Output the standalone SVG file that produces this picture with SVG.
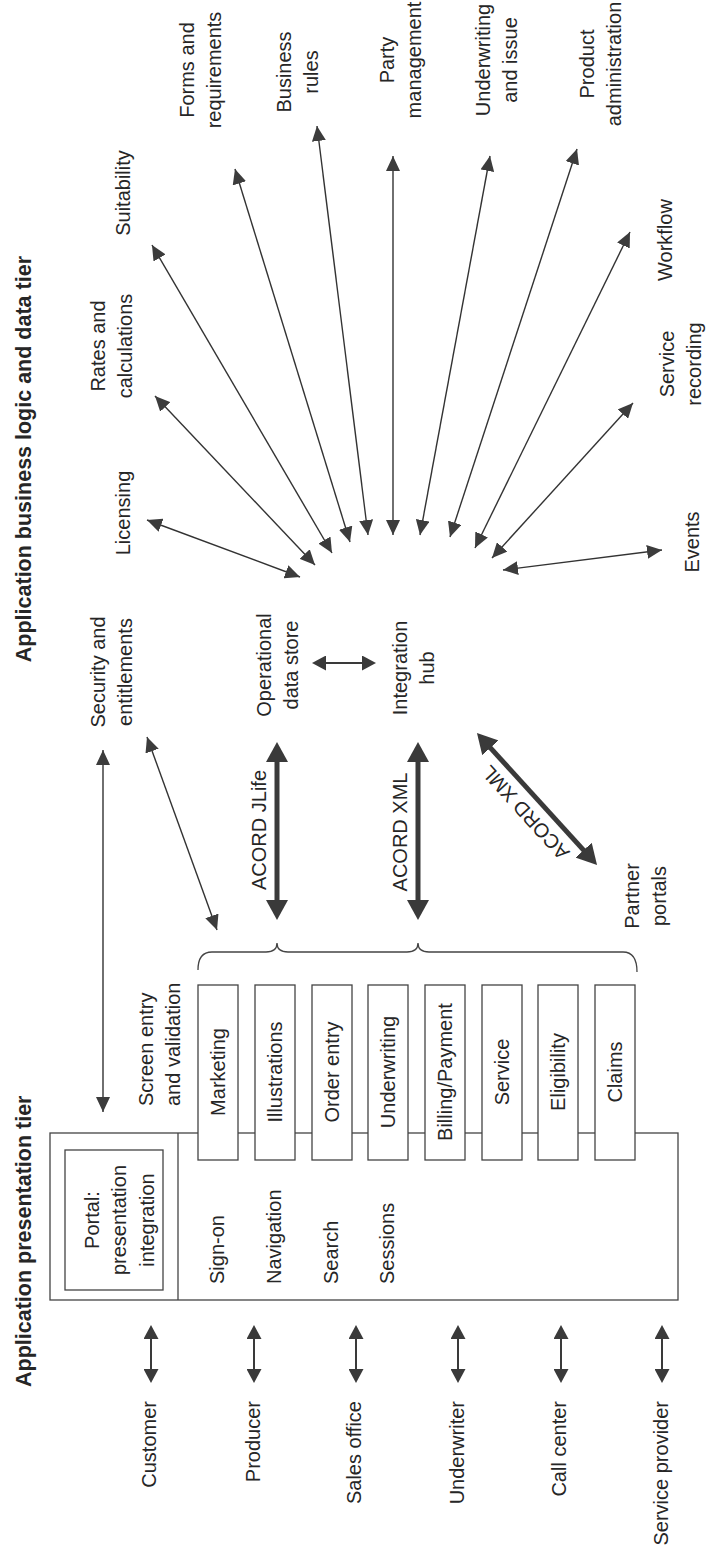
<svg xmlns="http://www.w3.org/2000/svg" width="709" height="1561" viewBox="0 0 709 1561">
<defs>
<style>
text { font-family: "Liberation Sans", Arial, Helvetica, sans-serif; font-size: 20px; fill: #262626; }
.title { font-weight: bold; font-size: 21.5px; }
.mid { text-anchor: middle; }
.end { text-anchor: end; }
.box { fill: #fff; stroke: #444; stroke-width: 1.3; }
.thin { stroke: #333; stroke-width: 1.4; fill: none; marker-start: url(#ah); marker-end: url(#ah); }
.thick { stroke: #3a3a3a; stroke-width: 5; fill: none; marker-start: url(#ahT); marker-end: url(#ahT); }
.act { stroke: #3a3a3a; stroke-width: 2; fill: none; marker-start: url(#ahA); marker-end: url(#ahA); }
.brace { stroke: #444; stroke-width: 1.3; fill: none; }
</style>
<marker id="ah" viewBox="0 0 15 14" refX="15" refY="7" markerWidth="15" markerHeight="14" markerUnits="userSpaceOnUse" orient="auto-start-reverse"><path d="M0,0 L15,7 L0,14 Z" fill="#3c3c3c"/></marker>
<marker id="ahT" viewBox="0 0 20 22" refX="3" refY="11" markerWidth="20" markerHeight="22" markerUnits="userSpaceOnUse" orient="auto-start-reverse"><path d="M0,0 L20,11 L0,22 Z" fill="#3a3a3a"/></marker>
<marker id="ahA" viewBox="0 0 14 15" refX="2" refY="7.5" markerWidth="14" markerHeight="15" markerUnits="userSpaceOnUse" orient="auto-start-reverse"><path d="M0,0 L14,7.5 L0,15 Z" fill="#3a3a3a"/></marker>
</defs>
<rect x="0" y="0" width="709" height="1561" fill="#fff"/>

<g id="titles">
<text class="title end" transform="translate(30.5,256) rotate(-90)">Application business logic and data tier</text>
<text class="title" transform="translate(30.5,1387) rotate(-90)">Application presentation tier</text>
</g>

<g id="container">
<rect class="box" x="50" y="1133" width="628" height="167" fill="none"/>
<line x1="178" y1="1133" x2="178" y2="1300" stroke="#444" stroke-width="1.3"/>
</g>
<g id="portal">
<rect class="box" x="65" y="1150" width="98" height="140"/>
<text class="mid" transform="translate(98.5,1220) rotate(-90)">Portal:</text>
<text class="mid" transform="translate(126,1220) rotate(-90)">presentation</text>
<text class="mid" transform="translate(153.5,1220) rotate(-90)">integration</text>
</g>
<g id="services">
<text transform="translate(224,1284) rotate(-90)">Sign-on</text>
<text transform="translate(281,1284) rotate(-90)">Navigation</text>
<text transform="translate(338,1284) rotate(-90)">Search</text>
<text transform="translate(394,1284) rotate(-90)">Sessions</text>
</g>
<g id="screen-entry">
<text transform="translate(152.5,1106) rotate(-90)">Screen entry</text>
<text transform="translate(179.5,1106) rotate(-90)">and validation</text>
</g>
<g id="mod-marketing"><rect class="box" x="198" y="985" width="40" height="175"/><text class="mid" transform="translate(225,1072) rotate(-90)">Marketing</text></g>
<g id="mod-illustrations"><rect class="box" x="255" y="985" width="40" height="175"/><text class="mid" transform="translate(282,1072) rotate(-90)">Illustrations</text></g>
<g id="mod-order"><rect class="box" x="312" y="985" width="40" height="175"/><text class="mid" transform="translate(339,1072) rotate(-90)">Order entry</text></g>
<g id="mod-underwriting"><rect class="box" x="368" y="985" width="40" height="175"/><text class="mid" transform="translate(395,1072) rotate(-90)">Underwriting</text></g>
<g id="mod-billing"><rect class="box" x="425" y="985" width="40" height="175"/><text class="mid" transform="translate(452,1072) rotate(-90)">Billing/Payment</text></g>
<g id="mod-service"><rect class="box" x="482" y="985" width="40" height="175"/><text class="mid" transform="translate(509,1072) rotate(-90)">Service</text></g>
<g id="mod-eligibility"><rect class="box" x="538" y="985" width="40" height="175"/><text class="mid" transform="translate(565,1072) rotate(-90)">Eligibility</text></g>
<g id="mod-claims"><rect class="box" x="595" y="985" width="40" height="175"/><text class="mid" transform="translate(622,1072) rotate(-90)">Claims</text></g>

<g id="actors">
<text class="end" transform="translate(156,1401) rotate(-90)">Customer</text>
<text class="end" transform="translate(260,1401) rotate(-90)">Producer</text>
<text class="end" transform="translate(361,1401) rotate(-90)">Sales office</text>
<text class="end" transform="translate(464,1401) rotate(-90)">Underwriter</text>
<text class="end" transform="translate(566,1401) rotate(-90)">Call center</text>
<text class="end" transform="translate(668,1401) rotate(-90)">Service provider</text>
</g>

<g id="mid-labels">
<text class="mid" transform="translate(104.5,672) rotate(-90)">Security and</text>
<text class="mid" transform="translate(131.5,672) rotate(-90)">entitlements</text>
<text class="mid" transform="translate(271,665) rotate(-90)">Operational</text>
<text class="mid" transform="translate(298,665) rotate(-90)">data store</text>
<text class="mid" transform="translate(406.5,668) rotate(-90)">Integration</text>
<text class="mid" transform="translate(433.5,668) rotate(-90)">hub</text>
<text class="mid" transform="translate(639,896) rotate(-90)">Partner</text>
<text class="mid" transform="translate(666,896) rotate(-90)">portals</text>
<text class="mid" transform="translate(266,830) rotate(-90)">ACORD JLife</text>
<text class="mid" transform="translate(407,832) rotate(-90)">ACORD XML</text>
<text class="mid" transform="translate(530.5,808) rotate(-132.3)">ACORD XML</text>
</g>

<g id="fan-labels">
<text class="mid" transform="translate(130,513) rotate(-90)">Licensing</text>
<text class="mid" transform="translate(105,346) rotate(-90)">Rates and</text>
<text class="mid" transform="translate(132,346) rotate(-90)">calculations</text>
<text class="mid" transform="translate(130,193) rotate(-90)">Suitability</text>
<text class="mid" transform="translate(193.5,70) rotate(-90)">Forms and</text>
<text class="mid" transform="translate(220.5,70) rotate(-90)">requirements</text>
<text class="mid" transform="translate(291,72) rotate(-90)">Business</text>
<text class="mid" transform="translate(318,72) rotate(-90)">rules</text>
<text class="mid" transform="translate(394,60) rotate(-90)">Party</text>
<text class="mid" transform="translate(421,60) rotate(-90)">management</text>
<text class="mid" transform="translate(489.5,60) rotate(-90)">Underwriting</text>
<text class="mid" transform="translate(516.5,60) rotate(-90)">and issue</text>
<text class="mid" transform="translate(593.5,64) rotate(-90)">Product</text>
<text class="mid" transform="translate(620.5,64) rotate(-90)">administration</text>
<text class="mid" transform="translate(672,240) rotate(-90)">Workflow</text>
<text class="mid" transform="translate(673.5,364) rotate(-90)">Service</text>
<text class="mid" transform="translate(700.5,364) rotate(-90)">recording</text>
<text class="mid" transform="translate(699,542) rotate(-90)">Events</text>
</g>

<g id="connectors">
<line class="thin" x1="147" y1="520" x2="300" y2="577"/>
<line class="thin" x1="155" y1="396" x2="315" y2="565"/>
<line class="thin" x1="152" y1="245" x2="332" y2="553"/>
<line class="thin" x1="235" y1="169" x2="350" y2="542"/>
<line class="thin" x1="317" y1="126" x2="368" y2="535"/>
<line class="thin" x1="393" y1="156" x2="393" y2="535"/>
<line class="thin" x1="490" y1="156" x2="420" y2="535"/>
<line class="thin" x1="577" y1="149" x2="450" y2="537"/>
<line class="thin" x1="630" y1="232" x2="475" y2="548"/>
<line class="thin" x1="633" y1="403" x2="492" y2="558"/>
<line class="thin" x1="662" y1="550" x2="503" y2="570"/>
<line class="thin" x1="103" y1="750" x2="103" y2="1112"/>
<line class="thin" x1="147" y1="737" x2="217" y2="930"/>
<line class="act" x1="324" y1="663" x2="364" y2="663" style="stroke-width:1.8"/>
<line class="thick" x1="277" y1="759" x2="277" y2="903"/>
<line class="thick" x1="418" y1="759" x2="418" y2="903"/>
<line class="thick" x1="488.4" y1="745.6" x2="585.6" y2="852.4"/>
<line class="act" x1="151" y1="1337" x2="151" y2="1371"/>
<line class="act" x1="254" y1="1337" x2="254" y2="1371"/>
<line class="act" x1="356" y1="1337" x2="356" y2="1371"/>
<line class="act" x1="458" y1="1337" x2="458" y2="1371"/>
<line class="act" x1="561" y1="1337" x2="561" y2="1371"/>
<line class="act" x1="662" y1="1337" x2="662" y2="1371"/>
<path class="brace" d="M198,970 Q198,952 212,952 L266,952 Q277,952 277,943 Q277,952 288,952 L407,952 Q418,952 418,943 Q418,952 429,952 L623,952 Q637,952 637,972"/>
</g>
</svg>
